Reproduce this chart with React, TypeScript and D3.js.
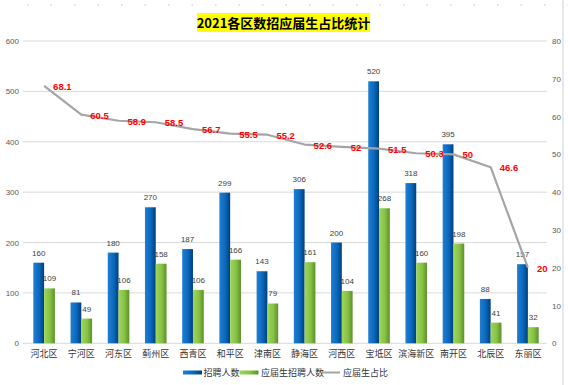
import React from 'react';
import { scaleBand, scaleLinear, line } from 'd3';

// data
const districts = ['河北区', '宁河区', '河东区', '蓟州区', '西青区', '和平区', '津南区', '静海区', '河西区', '宝坻区', '滨海新区', '南开区', '北辰区', '东丽区'];
const hires = [160, 81, 180, 270, 187, 299, 143, 306, 200, 520, 318, 395, 88, 157];
const gradHires = [109, 49, 106, 158, 106, 166, 79, 161, 104, 268, 160, 198, 41, 32];
const gradRatio = [68.1, 60.5, 58.9, 58.5, 56.7, 55.5, 55.2, 52.6, 52, 51.5, 50.3, 50, 46.6, 20];
const leftTicks = [0, 100, 200, 300, 400, 500, 600];
const rightTicks = [0, 10, 20, 30, 40, 50, 60, 70, 80];

const W = 568;
const H = 385;
const numFont = '"Liberation Sans", "Noto Sans CJK SC", sans-serif';
const cjkFont = '"Noto Sans CJK SC", sans-serif';

export default function App() {
  const x = scaleBand<string>().domain(districts).range([25.5, 546.5]).padding(0);
  const yL = scaleLinear().domain([0, 600]).range([343.3, 41]);
  const yR = scaleLinear().domain([0, 80]).range([343.3, 41]);
  const bw = x.bandwidth() * 0.29;
  const cx = (d: string) => (x(d) as number) + x.bandwidth() / 2;

  const ratioLine = line<number>()
    .x((d, i) => cx(districts[i]))
    .y((d) => yR(d));

  return (
    <svg width={W} height={H} style={{ position: 'absolute', left: 0, top: 0, background: '#fff' }}>
      <defs>
        <linearGradient id="blueGrad" x1="0" x2="1" y1="0" y2="0">
          <stop offset="0" stopColor="#1f7fd2" />
          <stop offset="0.55" stopColor="#0a68bd" />
          <stop offset="1" stopColor="#003f78" />
        </linearGradient>
        <linearGradient id="greenGrad" x1="0" x2="1" y1="0" y2="0">
          <stop offset="0" stopColor="#9ed65c" />
          <stop offset="0.55" stopColor="#86c243" />
          <stop offset="1" stopColor="#5d8f2c" />
        </linearGradient>
      </defs>

      {/* page decorations */}
      <line x1={27} x2={W} y1={5} y2={5} stroke="#d6d6d6" strokeWidth={1.5} strokeDasharray="1.5,22" />
      <line x1={563} x2={563} y1={0} y2={H} stroke="#e0e0e0" strokeWidth={1.5} />

      {/* title */}
      <rect x={197} y={13} width={173} height={19} fill="#ffff00" />
      <text x={283.5} y={27.5} textAnchor="middle" fontFamily={cjkFont} fontWeight={700} fontSize={13} fill="#000">
        2021各区数招应届生占比统计
      </text>

      {/* grid + left axis */}
      {leftTicks.map((t) => (
        <g key={'l' + t}>
          <line x1={23} x2={547} y1={yL(t)} y2={yL(t)} stroke="#d9d9d9" strokeWidth={1} />
          <text x={19} y={yL(t) + 3} textAnchor="end" fontFamily={numFont} fontSize={8} fill="#595959">
            {t}
          </text>
        </g>
      ))}

      {/* right axis */}
      {rightTicks.map((t) => (
        <text key={'r' + t} x={552} y={yR(t) + 3} fontFamily={numFont} fontSize={8} fill="#595959">
          {t}
        </text>
      ))}

      {/* bars */}
      {districts.map((d, i) => (
        <g key={d}>
          <rect x={cx(d) - bw} y={yL(hires[i])} width={bw} height={yL(0) - yL(hires[i])} fill="url(#blueGrad)" />
          <rect x={cx(d)} y={yL(gradHires[i])} width={bw} height={yL(0) - yL(gradHires[i])} fill="url(#greenGrad)" />
          <text x={cx(d) - bw / 2} y={yL(hires[i]) - 7} textAnchor="middle" fontFamily={numFont} fontSize={8} fill="#404040">
            {hires[i]}
          </text>
          <text x={cx(d) + bw / 2} y={yL(gradHires[i]) - 7} textAnchor="middle" fontFamily={numFont} fontSize={8} fill="#404040">
            {gradHires[i]}
          </text>
          <text x={cx(d)} y={357} textAnchor="middle" fontFamily={cjkFont} fontSize={9} fill="#333">
            {d}
          </text>
        </g>
      ))}

      {/* ratio line */}
      <path d={ratioLine(gradRatio) || ''} fill="none" stroke="#a5a5a5" strokeWidth={2.2} strokeLinejoin="round" />
      {gradRatio.map((v, i) => (
        <text key={'v' + i} x={cx(districts[i]) + 9} y={yR(v) + 4} fontFamily={numFont} fontWeight={700} fontSize={9.5} fill="#ff0000">
          {v}
        </text>
      ))}

      {/* legend */}
      <g fontFamily={cjkFont} fontSize={9} fill="#333">
        <rect x={183} y={370.5} width={19} height={4} fill="url(#blueGrad)" />
        <text x={203.5} y={375.5}>招聘人数</text>
        <rect x={239.5} y={370.5} width={19} height={4} fill="url(#greenGrad)" />
        <text x={261} y={375.5}>应届生招聘人数</text>
        <line x1={322} x2={340} y1={372.5} y2={372.5} stroke="#a5a5a5" strokeWidth={2} />
        <text x={343} y={375.5}>应届生占比</text>
      </g>
    </svg>
  );
}
